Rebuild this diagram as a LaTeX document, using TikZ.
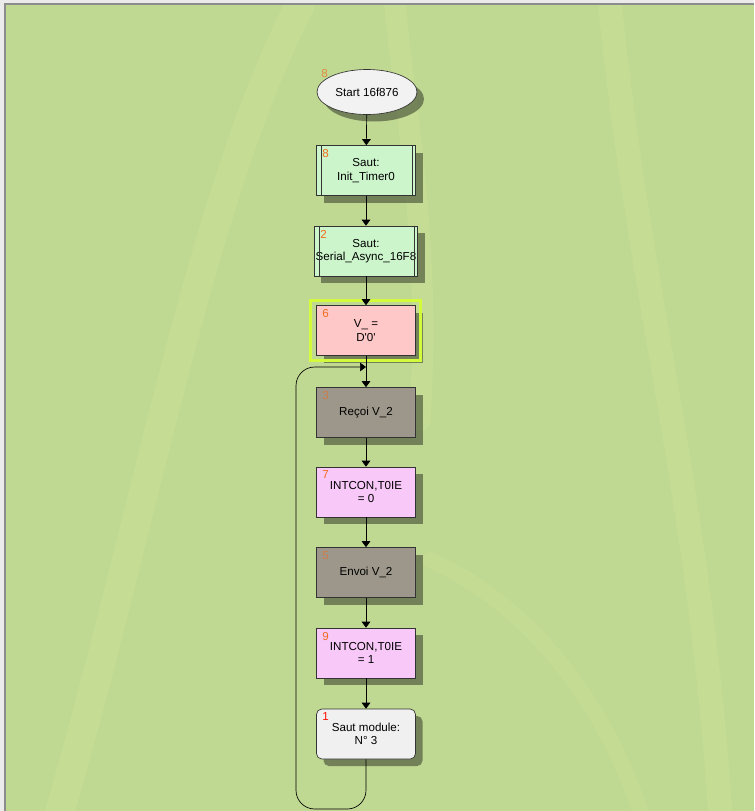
\documentclass[tikz,border=0pt]{standalone}
\usepackage{fontspec}
\setmainfont{Liberation Sans}
\usetikzlibrary{shapes.geometric,shadows,arrows.meta}

\definecolor{bggreen}{HTML}{BFD892}
\definecolor{streak}{HTML}{D6E89A}
\definecolor{startfill}{HTML}{F2F2F2}
\definecolor{subfill}{HTML}{CCF5CC}
\definecolor{setfill}{HTML}{FFC8C8}
\definecolor{iofill}{HTML}{9C978A}
\definecolor{bitfill}{HTML}{F8C8F8}
\definecolor{modfill}{HTML}{F0F0F0}
\definecolor{numcol}{HTML}{F26B1D}
\definecolor{selcol}{HTML}{D4FA3C}

\begin{document}
\begin{tikzpicture}[x=0.75pt, y=-0.75pt, font=\fontsize{8.7}{10}\selectfont,
    boxshadow/.style={drop shadow={shadow xshift=5.25pt, shadow yshift=-5.25pt, fill=black, opacity=0.4}},
    block/.style={draw=black!80, line width=0.5pt, minimum width=74.25pt, minimum height=37.5pt,
        align=center, inner sep=1pt, boxshadow},
    num/.style={anchor=north west, inner sep=0pt, text=numcol},
    flow/.style={line width=0.5pt, -{Triangle[width=6.5pt, length=4.5pt]}}]
    \useasboundingbox (0,0) rectangle (754,811);

    % window and background
    \fill[black!8] (0,0) rectangle (754,811);
    \fill[bggreen] (5,5) rectangle (754,811);
    \draw[black!45, line width=0.8pt] (5,811) -- (5,4) -- (754,4);
    \begin{scope}
        \clip (5,5) rectangle (754,811);
        \draw[streak, line width=22pt, opacity=0.25, line cap=round] (60,811) .. controls (150,500) and (200,200) .. (300,5);
        \draw[streak, line width=16pt, opacity=0.25, line cap=round] (395,5) .. controls (410,150) and (430,250) .. (420,420);
        \draw[streak, line width=18pt, opacity=0.25, line cap=round] (610,5) .. controls (640,300) and (700,500) .. (720,811);
        \draw[streak, line width=12pt, opacity=0.2, line cap=round] (430,560) .. controls (520,600) and (600,690) .. (640,811);
    \end{scope}

    % blocks
    \node[ellipse, draw=black!80, line width=0.5pt, fill=startfill, minimum width=75pt, minimum height=33.75pt,
        inner sep=0pt, boxshadow] (start) at (367,92) {Start 16f876};
    \node[block, fill=subfill] (b1) at (366,170.5) {Saut:\\Init\_Timer0};
    \node[block, fill=subfill] (b2) at (366,251) {Saut:\\Serial\_Async\_16F8};
    \node[block, fill=setfill] (b3) at (366,330.5) {V\_ =\\D\textquotesingle 0\textquotesingle};
    \node[block, fill=iofill] (b4) at (366,412.5) {Reçoi V\_2};
    \node[block, fill=bitfill] (b5) at (366,492) {INTCON,T0IE\\= 0};
    \node[block, fill=iofill] (b6) at (366,572.5) {Envoi V\_2};
    \node[block, fill=bitfill] (b7) at (366,653) {INTCON,T0IE\\= 1};
    \node[block, fill=modfill, rounded corners=4pt] (b8) at (366,734) {Saut module:\\N° 3};

    % subroutine side bars
    \foreach \n in {b1,b2} {
        \draw[black!80, line width=0.5pt] ([xshift=3.75pt]\n.north west) -- ([xshift=3.75pt]\n.south west);
        \draw[black!80, line width=0.5pt] ([xshift=-3pt]\n.north east) -- ([xshift=-3pt]\n.south east);
    }

    % selection frame
    \draw[selcol, line width=2.2pt] ([shift={(-6,-5)}]b3.north west) rectangle ([shift={(5,5)}]b3.south east);

    % block numbers
    \node[num, opacity=0.7] (n0) at (321,69) {8};
    \node[num] (n1) at ([shift={(6,4)}]b1.north west) {8};
    \node[num] (n2) at ([shift={(6,4)}]b2.north west) {2};
    \node[num] (n3) at ([shift={(6,4)}]b3.north west) {6};
    \node[num, opacity=0.6] (n4) at ([shift={(6,4)}]b4.north west) {3};
    \node[num] (n5) at ([shift={(6,4)}]b5.north west) {7};
    \node[num, opacity=0.6] (n6) at ([shift={(6,4)}]b6.north west) {5};
    \node[num] (n7) at ([shift={(6,4)}]b7.north west) {9};
    \node[num, text=red!90!orange] (n8) at ([shift={(6,4)}]b8.north west) {1};

    % connectors
    \draw[flow] (start) -- (b1);
    \draw[flow] (b1) -- (b2);
    \draw[flow] (b2) -- (b3);
    \draw[flow] (b3) -- (b4);
    \draw[flow] (b4) -- (b5);
    \draw[flow] (b5) -- (b6);
    \draw[flow] (b6) -- (b7);
    \draw[flow] (b7) -- (b8);

    % loop back
    \coordinate (merge) at (366,367);
    \coordinate (loopcorner) at (296,809);
    \draw[flow, rounded corners=14pt] (b8.south) |- (loopcorner) |- (merge);
\end{tikzpicture}
\end{document}
